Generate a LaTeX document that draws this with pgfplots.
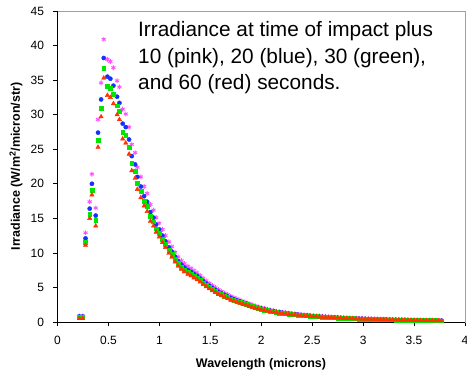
\documentclass[border=0pt]{standalone}
\usepackage{fontspec}
\setmainfont{Liberation Sans}
\usepackage{pgfplots}
\usepackage{pgfplotstable}
\pgfplotsset{compat=1.18}
\definecolor{cpink}{RGB}{255,80,255}
\definecolor{cblue}{RGB}{20,50,255}
\definecolor{cgreen}{RGB}{0,230,0}
\definecolor{cred}{RGB}{255,50,0}
\definecolor{frame}{RGB}{160,160,160}

\pgfplotstableread{
x p b g r
0.214 0.85 0.80 0.70 0.50
0.248 0.85 0.80 0.70 0.50
0.275 12.9 12.1 11.6 11.1
0.316 17.4 16.4 15.6 15.0
0.338 21.4 20.0 19.1 18.4
0.375 16.5 15.4 14.7 13.9
0.398 29.3 27.4 26.3 25.3
0.428 34.6 32.2 30.9 29.7
0.454 40.9 38.2 36.7 35.3
0.490 38.0 35.5 34.1 32.8
0.519 37.7 35.2 33.8 32.5
0.549 36.8 34.2 33.0 31.6
0.585 34.9 32.6 31.3 30.0
0.608 34.0 31.7 30.5 29.3
0.640 30.8 28.7 27.5 26.5
0.670 30.1 28.2 27.0 25.9
0.703 28.2 26.4 25.3 24.3
0.729 25.7 24.0 23.0 21.9
0.762 24.5 22.8 21.8 20.8
0.784 22.4 21.0 20.1 19.2
0.818 21.0 19.6 18.9 18.0
0.850 19.6 18.2 17.5 16.8
0.880 18.6 17.4 16.7 16.0
0.912 17.0 15.9 15.3 14.6
0.942 16.2 15.1 14.5 13.9
0.968 15.1 14.1 13.5 13.0
0.998 14.3 13.4 12.9 12.3
1.030 13.4 12.5 12.0 11.5
1.059 12.5 11.7 11.2 10.8
1.093 11.6 10.8 10.4 9.95
1.122 10.9 10.2 9.8 9.4
1.155 10.1 9.45 9.07 8.7
1.184 9.42 8.8 8.45 8.1
1.217 8.88 8.3 7.97 7.64
1.246 8.45 7.9 7.58 7.27
1.28 8.06 7.53 7.23 6.93
1.31 7.78 7.27 6.98 6.69
1.34 7.44 6.95 6.67 6.39
1.37 7.12 6.65 6.38 6.12
1.40 6.73 6.29 6.04 5.79
1.43 6.31 5.90 5.66 5.43
1.46 5.96 5.57 5.35 5.12
1.49 5.61 5.24 5.03 4.82
1.52 5.29 4.94 4.74 4.54
1.55 4.98 4.65 4.46 4.28
1.58 4.69 4.38 4.20 4.03
1.61 4.43 4.14 3.97 3.81
1.64 4.19 3.92 3.76 3.61
1.67 3.96 3.70 3.55 3.40
1.70 3.73 3.49 3.35 3.21
1.73 3.53 3.30 3.17 3.04
1.76 3.36 3.14 3.01 2.89
1.79 3.18 2.97 2.85 2.73
1.82 3.01 2.81 2.70 2.59
1.85 2.86 2.67 2.56 2.46
1.88 2.66 2.49 2.39 2.29
1.91 2.48 2.32 2.23 2.13
1.94 2.33 2.18 2.09 2.01
1.97 2.20 2.06 1.98 1.90
2.00 2.08 1.94 1.86 1.78
2.03 1.96 1.83 1.76 1.68
2.06 1.85 1.73 1.66 1.59
2.09 1.74 1.63 1.56 1.50
2.12 1.66 1.55 1.49 1.43
2.15 1.56 1.46 1.40 1.34
2.18 1.49 1.39 1.33 1.28
2.21 1.42 1.33 1.28 1.22
2.24 1.36 1.27 1.22 1.17
2.27 1.29 1.21 1.16 1.11
2.30 1.24 1.16 1.11 1.07
2.33 1.19 1.11 1.07 1.02
2.36 1.13 1.06 1.02 0.98
2.39 1.09 1.02 0.98 0.94
2.42 1.05 0.98 0.94 0.90
2.45 1.00 0.94 0.90 0.86
2.48 0.96 0.90 0.86 0.83
2.51 0.92 0.86 0.83 0.79
2.54 0.89 0.83 0.80 0.76
2.57 0.85 0.79 0.76 0.73
2.60 0.81 0.76 0.73 0.70
2.63 0.78 0.73 0.70 0.67
2.66 0.75 0.70 0.67 0.64
2.69 0.73 0.68 0.65 0.63
2.72 0.70 0.65 0.62 0.60
2.75 0.67 0.63 0.60 0.58
2.78 0.64 0.60 0.58 0.55
2.81 0.62 0.58 0.56 0.53
2.84 0.60 0.56 0.54 0.52
2.87 0.58 0.54 0.52 0.50
2.90 0.56 0.52 0.50 0.48
2.93 0.54 0.50 0.48 0.46
2.96 0.52 0.48 0.46 0.44
2.99 0.50 0.47 0.45 0.43
3.02 0.48 0.45 0.43 0.41
3.05 0.46 0.43 0.42 0.40
3.08 0.45 0.42 0.40 0.39
3.11 0.43 0.405 0.39 0.37
3.14 0.42 0.39 0.38 0.36
3.17 0.41 0.38 0.36 0.35
3.20 0.39 0.37 0.35 0.34
3.23 0.38 0.35 0.34 0.33
3.26 0.37 0.34 0.33 0.32
3.29 0.36 0.33 0.32 0.31
3.32 0.34 0.32 0.31 0.30
3.35 0.33 0.31 0.30 0.29
3.38 0.32 0.30 0.29 0.28
3.41 0.31 0.29 0.28 0.27
3.44 0.30 0.28 0.27 0.26
3.47 0.29 0.27 0.26 0.25
3.50 0.28 0.265 0.25 0.24
3.53 0.275 0.26 0.25 0.24
3.56 0.27 0.25 0.24 0.23
3.59 0.26 0.24 0.23 0.22
3.62 0.25 0.235 0.225 0.215
3.65 0.245 0.23 0.22 0.21
3.68 0.235 0.22 0.21 0.20
3.71 0.23 0.215 0.205 0.195
3.74 0.225 0.21 0.20 0.19
3.77 0.215 0.20 0.19 0.185
}\data

\begin{document}
\begin{tikzpicture}
\path[use as bounding box] (-57.5pt,-53pt) rectangle (409.5pt,322pt);
\begin{axis}[
  at={(0,0)}, anchor=south west,
  scale only axis, width=407.5pt, height=311pt,
  xmin=0, xmax=4, ymin=0, ymax=45,
  xtick={0,0.5,1,1.5,2,2.5,3,3.5,4},
  ytick={0,5,10,15,20,25,30,35,40,45},
  xtick pos=bottom, ytick pos=left,
  tick align=outside, major tick length=4pt,
  tick style={black, line width=0.6pt},
  axis line style={draw=frame, line width=0.6pt},
  ticklabel style={font=\fontsize{12}{14}\selectfont},
  xticklabel style={yshift=-7pt},
  yticklabel style={xshift=-6pt},
  /pgf/number format/assume math mode=true,
  clip=false,
]
\addplot[only marks, mark=asterisk, mark size=2.4pt, color=cpink, line width=0.9pt] table[x=x,y=p]{\data};
\addplot[only marks, mark=*, mark size=2.1pt, color=cblue] table[x=x,y=b]{\data};
\addplot[only marks, mark=square*, mark size=1.9pt, color=cgreen] table[x=x,y=g]{\data};
\addplot[only marks, mark=triangle*, mark size=2.5pt, color=cred] table[x=x,y=r]{\data};
\draw[black, line width=0.6pt] (rel axis cs:0,1) -- (rel axis cs:0,0) -- (rel axis cs:1,0);
\end{axis}
\node[anchor=base, font=\bfseries\fontsize{12.5}{14}\selectfont] at (203.5pt,-46pt) {Wavelength (microns)};
\node[anchor=base, rotate=90, font=\bfseries\fontsize{12.5}{14}\selectfont] at (-37.5pt,155.5pt) {Irradiance (W/m\textsuperscript{2}/micron/str)};
\node[anchor=base west, inner sep=0pt, font=\fontsize{20.8}{24}\selectfont] at (80.5pt,285.3pt) {Irradiance at time of impact plus};
\node[anchor=base west, inner sep=0pt, font=\fontsize{20.8}{24}\selectfont] at (80.5pt,258.7pt) {10 (pink), 20 (blue), 30 (green),};
\node[anchor=base west, inner sep=0pt, font=\fontsize{20.8}{24}\selectfont] at (80.5pt,232.5pt) {and 60 (red) seconds.};
\end{tikzpicture}
\end{document}
